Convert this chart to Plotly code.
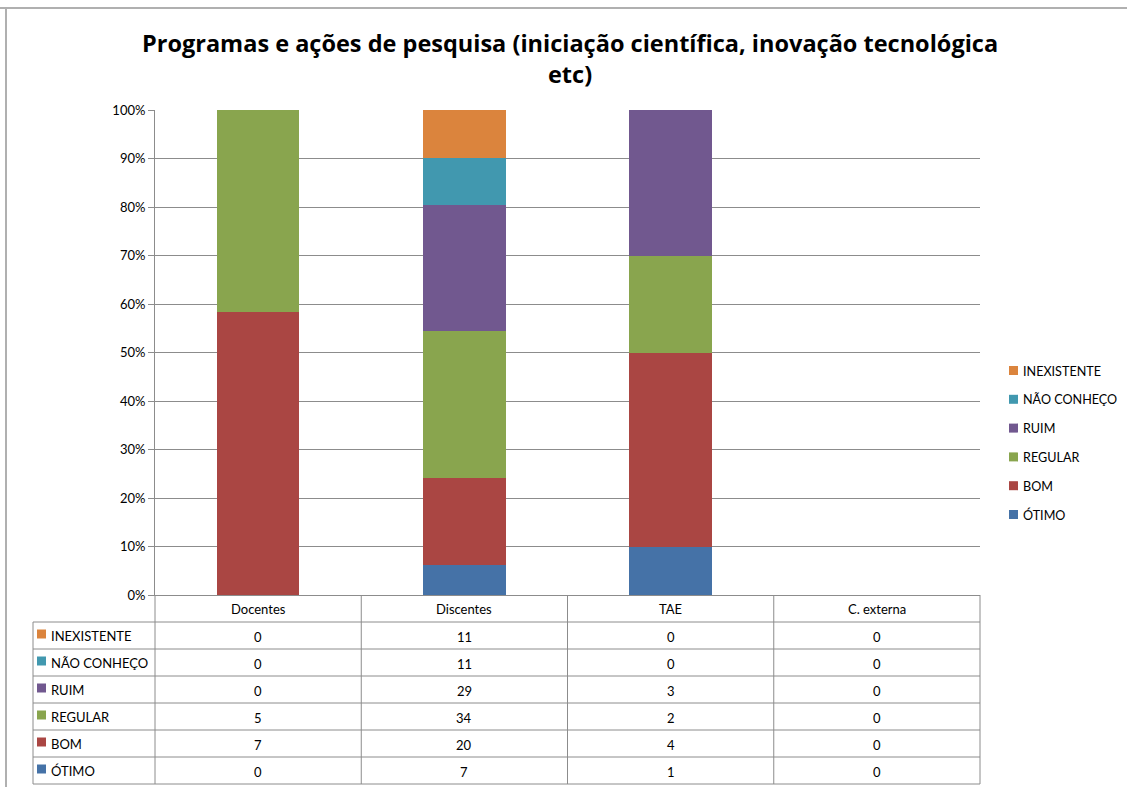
import plotly.graph_objects as go

# counts per group (chart shows them as 100% stacked)
grupos = ['Docentes', 'Discentes', 'TAE', 'C. externa']
otimo = [0, 7, 1, 0]
bom = [7, 20, 4, 0]
regular = [5, 34, 2, 0]
ruim = [0, 29, 3, 0]
nao_conheco = [0, 11, 0, 0]
inexistente = [0, 11, 0, 0]

series = [
    ('ÓTIMO', otimo, '#4572A7'),
    ('BOM', bom, '#AA4643'),
    ('REGULAR', regular, '#89A54E'),
    ('RUIM', ruim, '#71588F'),
    ('NÃO CONHEÇO', nao_conheco, '#4198AF'),
    ('INEXISTENTE', inexistente, '#DB843D'),
]

W, H = 1127, 787
L, R, T, B = 155, 980, 110, 595  # plot area in px
FONT = 'Lato, Noto Sans, sans-serif'
FS = 13
GRID = '#8c8c8c'


def py(y):
    # pixel row -> paper y
    return (B - y) / (B - T)


def px_(x):
    return (x - L) / (R - L)


fig = go.Figure()
for nome, vals, cor in series:
    fig.add_trace(go.Bar(x=grupos, y=vals, name=nome, marker_color=cor,
                         marker_line_width=0))

fig.update_layout(
    barmode='stack', barnorm='percent', bargap=0.6,
    width=W, height=H,
    margin=dict(l=L, r=W - R, t=T, b=H - B, pad=0),
    plot_bgcolor='white', paper_bgcolor='white',
    font=dict(family=FONT, size=FS, color='#000'),
    showlegend=False,
)
fig.update_yaxes(range=[0, 100], dtick=10, ticksuffix='%', showgrid=True,
                 gridcolor=GRID, gridwidth=1, showline=True, linecolor=GRID,
                 ticks='outside', ticklen=6, tickcolor=GRID,
                 tickfont=dict(family=FONT, size=FS), zeroline=False)
fig.update_xaxes(showticklabels=False, showline=True, linecolor=GRID, ticks='',
                 range=[-0.5, 3.5])

shapes = []
annotations = []
line = dict(color=GRID, width=1)

# title
annotations.append(dict(x=px_(570), xref='paper', y=py(59), yref='paper',
                        text='<b>Programas e ações de pesquisa (iniciação científica, inovação tecnológica<br>etc)</b>',
                        showarrow=False, xanchor='center', yanchor='middle',
                        font=dict(family='Open Sans, sans-serif', size=23.5, color='#000')))

# chart border (top and left only visible)
shapes.append(dict(type='line', xref='paper', yref='paper', x0=px_(0), x1=px_(W), y0=py(8), y1=py(8),
                   line=dict(color='#b0b0b0', width=2)))
shapes.append(dict(type='line', xref='paper', yref='paper', x0=px_(6), x1=px_(6), y0=py(8), y1=py(H),
                   line=dict(color='#b0b0b0', width=2)))

# legend (top to bottom: INEXISTENTE ... ÓTIMO)
for i, (nome, vals, cor) in enumerate(reversed(series)):
    yc = 371 + i * 28.8
    shapes.append(dict(type='rect', xref='paper', yref='paper', x0=px_(1009), x1=px_(1018),
                       y0=py(yc - 5), y1=py(yc + 4), fillcolor=cor, line=dict(width=0)))
    annotations.append(dict(x=px_(1021), xref='paper', y=py(yc), yref='paper', text=nome,
                            showarrow=False, xanchor='left', yanchor='middle',
                            font=dict(family=FONT, size=12.6)))

row_top = 622
row_h = 27
n_rows = len(series)
bottom = row_top + row_h * n_rows
# vertical lines of table
for k in range(len(grupos) + 1):
    xk = k / len(grupos)
    shapes.append(dict(type='line', xref='paper', yref='paper', x0=xk, x1=xk,
                       y0=py(B), y1=py(bottom), line=line))
shapes.append(dict(type='line', xref='paper', yref='paper', x0=px_(33), x1=px_(33),
                   y0=py(row_top), y1=py(bottom), line=line))
# horizontal lines
for r in range(n_rows + 1):
    yy = row_top + r * row_h
    shapes.append(dict(type='line', xref='paper', yref='paper', x0=px_(33), x1=1,
                       y0=py(yy), y1=py(yy), line=line))

for g in grupos:
    annotations.append(dict(x=g, xref='x', y=py(609), yref='paper', text=g, showarrow=False,
                            xanchor='center', yanchor='middle', font=dict(family=FONT, size=FS)))

for r, (nome, vals, cor) in enumerate(reversed(series)):
    yc = row_top + r * row_h + row_h / 2
    shapes.append(dict(type='rect', xref='paper', yref='paper', x0=px_(37), x1=px_(46),
                       y0=py(yc - 6), y1=py(yc + 3), fillcolor=cor, line=dict(width=0)))
    annotations.append(dict(x=px_(49), xref='paper', y=py(yc), yref='paper', text=nome,
                            showarrow=False, xanchor='left', yanchor='middle',
                            font=dict(family=FONT, size=FS)))
    for g, v in zip(grupos, vals):
        annotations.append(dict(x=g, xref='x', y=py(yc + 1), yref='paper', text=str(v),
                                showarrow=False, xanchor='center', yanchor='middle',
                                font=dict(family=FONT, size=FS)))

fig.update_layout(shapes=shapes, annotations=annotations)
fig.write_html('out.html', config={'displayModeBar': False},
               post_script="document.body.style.margin='0';")
